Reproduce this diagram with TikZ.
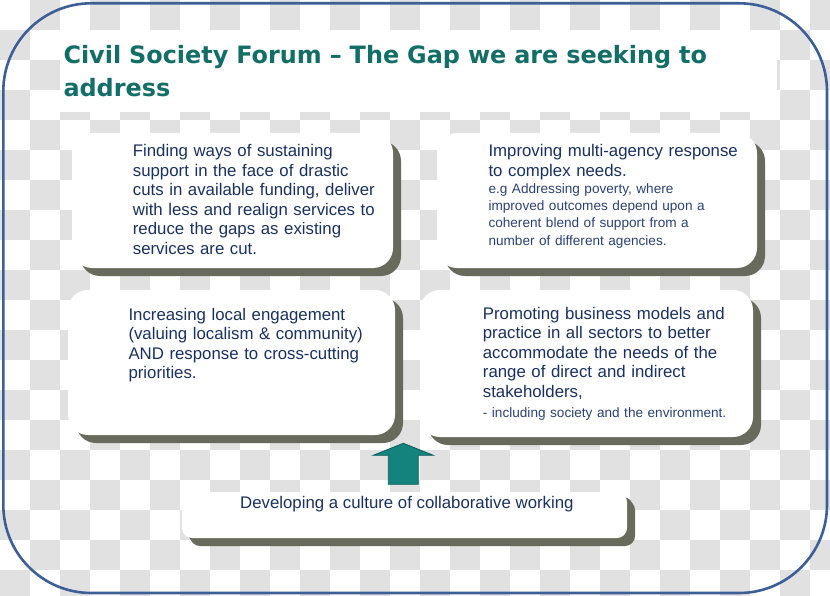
\documentclass[tikz,border=0pt]{standalone}
\usepackage{fontspec}
\setmainfont{Liberation Sans}
\newfontfamily\titlefont{DejaVu Sans}
\usetikzlibrary{shadows}
\definecolor{navy}{HTML}{1A3160}
\definecolor{navylt}{HTML}{2C4272}
\definecolor{titleteal}{HTML}{126E66}
\definecolor{arrowfill}{HTML}{14827D}
\definecolor{arrowedge}{HTML}{0E5F5C}
\definecolor{shadowc}{HTML}{686A5C}
\definecolor{framec}{HTML}{3C5F96}
\definecolor{checkc}{HTML}{E1E1E1}
\begin{document}
\begin{tikzpicture}[x=1pt,y=-1pt,
  checker/.style={fill=checkc},
  card/.style={rectangle, rounded corners=20pt, fill=white, inner sep=0pt,
    drop shadow={shadow xshift=8pt, shadow yshift=-8pt, fill=shadowc, opacity=1}},
  smallcard/.style={card, rounded corners=10pt,
    drop shadow={shadow xshift=6pt, shadow yshift=-5pt, fill=shadowc, opacity=1}},
  bodytext/.style={anchor=base west, inner sep=0pt, text width=330pt, align=left,
    text=navy, font=\fontsize{16.8}{19.5}\selectfont},
  onelinetext/.style={anchor=base west, inner sep=0pt,
    text=navy, font=\fontsize{16.8}{19.5}\selectfont},
  smalltext/.style={bodytext, text=navylt, font=\fontsize{13.6}{17.3}\selectfont},
  titletext/.style={anchor=base west, inner sep=0pt, text width=760pt, align=left,
    text=titleteal, font=\titlefont\bfseries\fontsize{23.9}{32.7}\selectfont},
  framestyle/.style={draw=framec, line width=2.6pt, rounded corners=88pt},
  arrowstyle/.style={fill=arrowfill, draw=arrowedge, line width=0.8pt, line join=miter}]
\useasboundingbox (0,0) rectangle (830,596);
% checkerboard background
\fill[white] (0,0) rectangle (830,596);
\foreach \i in {0,...,27}{
  \foreach \j in {0,...,19}{
    \pgfmathtruncatemacro\chk{mod(\i+\j,2)}
    \ifnum\chk=1 \fill[checker] (\i*30,\j*30) rectangle ++(30,30); \fi
  }
}
% title background
\fill[white] (60,30) rectangle (777,112);
% frame
\draw[framestyle] (3.3,3.3) rectangle (827,593);
% title
\node[titletext] (title) at (63.3,64) {Civil Society Forum – The Gap we are seeking to\\address};
% cards
\node[card, minimum width=321pt, minimum height=135pt] (b1) at (232.5,200.5) {};
\node[card, minimum width=320pt, minimum height=135pt] (b2) at (597,200.5) {};
\node[card, minimum width=327pt, minimum height=145pt] (b3) at (231.5,362.5) {};
\node[card, minimum width=333pt, minimum height=147pt] (b4) at (586.5,363.5) {};
\node[smallcard, minimum width=445pt, minimum height=46pt] (b5) at (404.5,515) {};
% texts
\node[bodytext] (t1) at (132.7,156.7) {Finding ways of sustaining\\support in the face of drastic\\cuts in available funding, deliver\\with less and realign services to\\reduce the gaps as existing\\services are cut.};
\node[bodytext] (t2) at (488.3,157) {Improving multi-agency response\\to complex needs.};
\node[smalltext] (t2s) at (488.3,193.3) {e.g Addressing poverty, where\\improved outcomes depend upon a\\coherent blend of support from a\\number of different agencies.};
\node[bodytext] (t3) at (128.3,320) {Increasing local engagement\\(valuing localism \& community)\\AND response to cross-cutting\\priorities.};
\node[bodytext] (t4) at (482.7,319) {Promoting business models and\\practice in all sectors to better\\accommodate the needs of the\\range of direct and indirect\\stakeholders,};
\node[smalltext] (t4s) at (482.7,417) {- including society and the environment.};
\node[onelinetext] (t5) at (240,508) {Developing a culture of collaborative working};
% block arrow from b5 upward
\coordinate (tip) at (403.3,443.3);
\filldraw[arrowstyle] (tip) -- ++(30,12) -- ++(-15,0) -- ++(0,29) -- ++(-30,0) -- ++(0,-29) -- ++(-15,0) -- cycle;
\end{tikzpicture}
\end{document}
